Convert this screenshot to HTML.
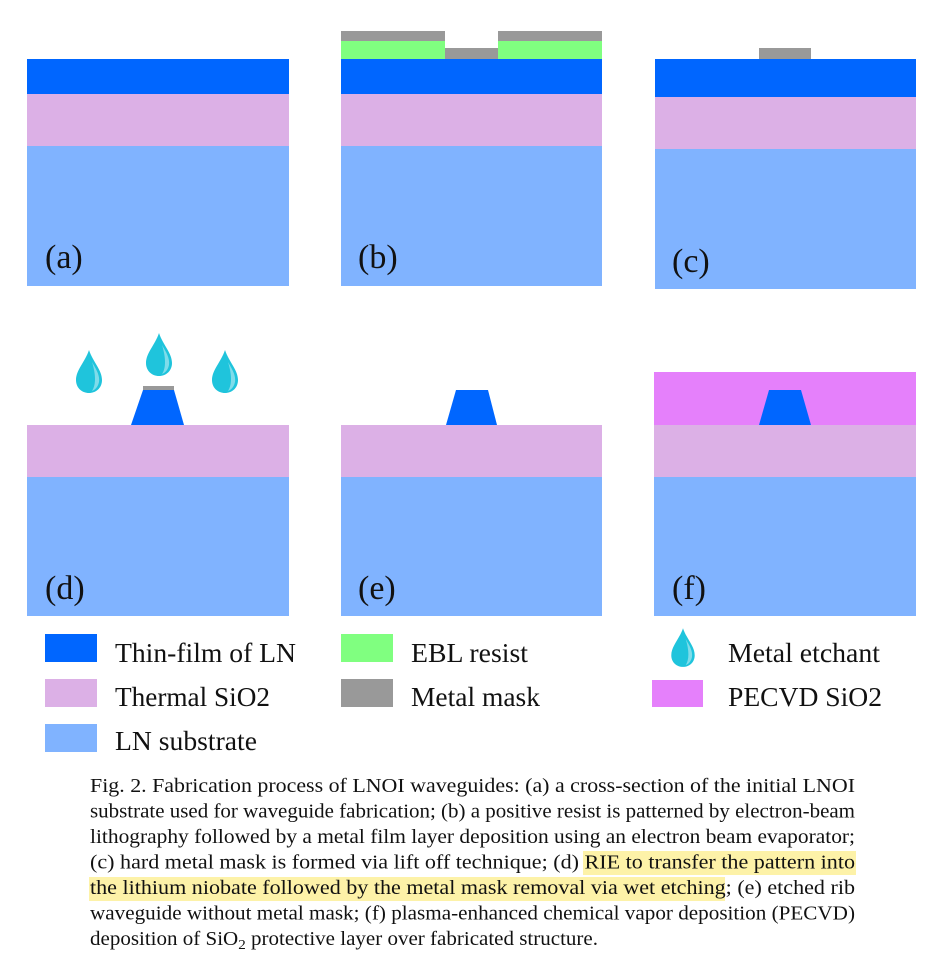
<!DOCTYPE html>
<html><head><meta charset="utf-8"><style>
html,body{margin:0;padding:0;background:#fff;}
svg{display:block;}
text{font-family:"Liberation Serif","DejaVu Serif",serif;fill:#111;}
</style></head><body>
<svg width="944" height="964" viewBox="0 0 944 964">
<defs>
  <g id="drop">
    <path d="M0,-22 C4,-10 13,-2 13,8 C13,16 7,21 0,21 C-7,21 -13,16 -13,8 C-13,-2 -4,-10 0,-22 Z" fill="#1fc4dc"/>
    <path d="M3,-10 C7,-3 11,3 10,10 C9,15 6,18 3,19 C7,13 7,3 3,-10 Z" fill="#7fdcea"/>
  </g>
</defs>

<g>
  <rect x="27" y="59" width="262" height="35" fill="#0066ff"/>
  <rect x="27" y="94" width="262" height="52" fill="#dcb0e6"/>
  <rect x="27" y="146" width="262" height="140" fill="#80b3ff"/>
  <text x="45" y="268" font-size="34">(a)</text>
</g>

<g>
  <rect x="341" y="31" width="104" height="10" fill="#999"/>
  <rect x="498" y="31" width="104" height="10" fill="#999"/>
  <rect x="341" y="41" width="104" height="18" fill="#80ff80"/>
  <rect x="498" y="41" width="104" height="18" fill="#80ff80"/>
  <rect x="445" y="48" width="53" height="11" fill="#999"/>
  <rect x="341" y="59" width="261" height="35" fill="#0066ff"/>
  <rect x="341" y="94" width="261" height="52" fill="#dcb0e6"/>
  <rect x="341" y="146" width="261" height="140" fill="#80b3ff"/>
  <text x="358" y="268" font-size="34">(b)</text>
</g>

<g>
  <rect x="759" y="48" width="52" height="11" fill="#999"/>
  <rect x="655" y="59" width="261" height="38" fill="#0066ff"/>
  <rect x="655" y="97" width="261" height="52" fill="#dcb0e6"/>
  <rect x="655" y="149" width="261" height="140" fill="#80b3ff"/>
  <text x="672" y="272" font-size="34">(c)</text>
</g>

<g>
  <use href="#drop" x="89" y="372"/>
  <use href="#drop" x="159" y="355"/>
  <use href="#drop" x="225" y="372"/>
  <rect x="143" y="386" width="31" height="4" fill="#999"/>
  <polygon points="143,390 174,390 184,425 131,425" fill="#0066ff"/>
  <rect x="27" y="425" width="262" height="52" fill="#dcb0e6"/>
  <rect x="27" y="477" width="262" height="139" fill="#80b3ff"/>
  <text x="45" y="599" font-size="34">(d)</text>
</g>

<g>
  <polygon points="456,390 488,390 497,425 446,425" fill="#0066ff"/>
  <rect x="341" y="425" width="261" height="52" fill="#dcb0e6"/>
  <rect x="341" y="477" width="261" height="139" fill="#80b3ff"/>
  <text x="358" y="599" font-size="34">(e)</text>
</g>

<g>
  <rect x="654" y="372" width="262" height="53" fill="#e580fb"/>
  <polygon points="769,390 801,390 811,425 759,425" fill="#0066ff"/>
  <rect x="654" y="425" width="262" height="52" fill="#dcb0e6"/>
  <rect x="654" y="477" width="262" height="139" fill="#80b3ff"/>
  <text x="672" y="599" font-size="34">(f)</text>
</g>

<g>
  <rect x="45" y="634" width="52" height="28" fill="#0066ff"/>
  <text x="115" y="662" font-size="27" textLength="181" lengthAdjust="spacingAndGlyphs">Thin-film of LN</text>
  <rect x="45" y="679" width="52" height="28" fill="#dcb0e6"/>
  <text x="115" y="706" font-size="27" textLength="155" lengthAdjust="spacingAndGlyphs">Thermal SiO2</text>
  <rect x="45" y="724" width="52" height="28" fill="#80b3ff"/>
  <text x="115" y="750" font-size="27" textLength="142" lengthAdjust="spacingAndGlyphs">LN substrate</text>

  <rect x="341" y="634" width="52" height="28" fill="#80ff80"/>
  <text x="411" y="662" font-size="27" textLength="117" lengthAdjust="spacingAndGlyphs">EBL resist</text>
  <rect x="341" y="679" width="52" height="28" fill="#999"/>
  <text x="411" y="706" font-size="27" textLength="129" lengthAdjust="spacingAndGlyphs">Metal mask</text>

  <g transform="translate(683,648) scale(0.9)"><use href="#drop"/></g>
  <text x="728" y="662" font-size="27" textLength="152" lengthAdjust="spacingAndGlyphs">Metal etchant</text>
  <rect x="652" y="680" width="51" height="27" fill="#e580fb"/>
  <text x="728" y="706" font-size="27" textLength="154" lengthAdjust="spacingAndGlyphs">PECVD SiO2</text>
</g>

<g>
  <rect x="583" y="851" width="273" height="24" fill="#fdf2a8"/>
  <rect x="89" y="877" width="636" height="24" fill="#fdf2a8"/>
  <text x="90" y="792" font-size="19.5" textLength="765" lengthAdjust="spacingAndGlyphs">Fig. 2. Fabrication process of LNOI waveguides: (a) a cross-section of the initial LNOI</text>
  <text x="90" y="817.5" font-size="19.5" textLength="765" lengthAdjust="spacingAndGlyphs">substrate used for waveguide fabrication; (b) a positive resist is patterned by electron-beam</text>
  <text x="90" y="843" font-size="19.5" textLength="765" lengthAdjust="spacingAndGlyphs">lithography followed by a metal film layer deposition using an electron beam evaporator;</text>
  <text x="90" y="868.5" font-size="19.5" textLength="765" lengthAdjust="spacingAndGlyphs">(c) hard metal mask is formed via lift off technique; (d) RIE to transfer the pattern into</text>
  <text x="90" y="894" font-size="19.5" textLength="765" lengthAdjust="spacingAndGlyphs">the lithium niobate followed by the metal mask removal via wet etching; (e) etched rib</text>
  <text x="90" y="919.5" font-size="19.5" textLength="765" lengthAdjust="spacingAndGlyphs">waveguide without metal mask; (f) plasma-enhanced chemical vapor deposition (PECVD)</text>
  <text x="90" y="945" font-size="19.5" textLength="508" lengthAdjust="spacingAndGlyphs">deposition of SiO<tspan font-size="14" dy="4">2</tspan><tspan dy="-4"> protective layer over fabricated structure.</tspan></text>
</g>
</svg>
</body></html>
